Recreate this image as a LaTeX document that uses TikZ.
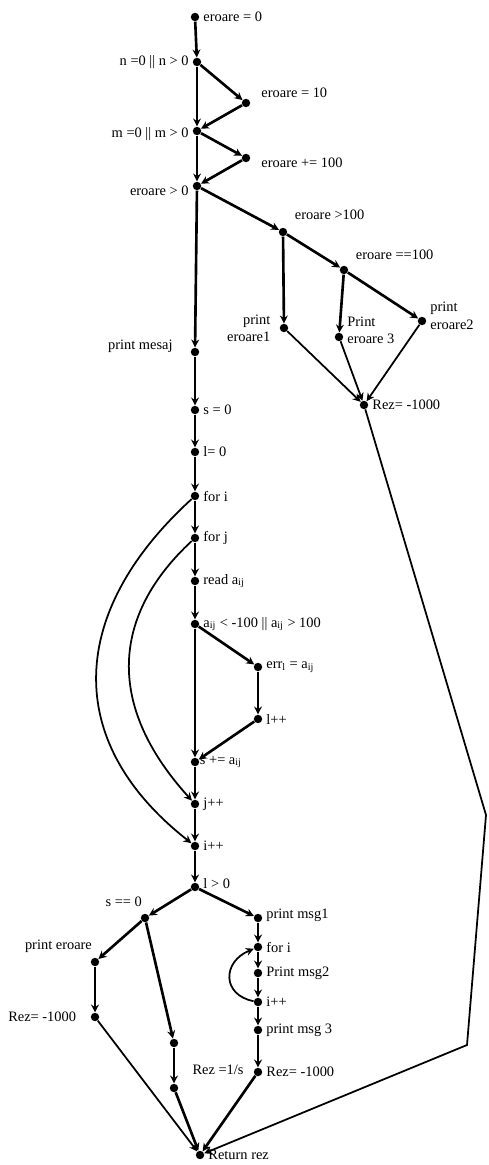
\documentclass[tikz,border=0pt]{standalone}
\usepackage{fontspec}
\setmainfont{Liberation Serif}
\usetikzlibrary{arrows.meta}
\tikzset{
    dot/.style={circle, fill, inner sep=0pt, minimum size=4.8pt},
    edge/.style={draw, line width=1.5pt, -{Stealth[length=4.5pt, width=4.5pt]}},
    thinedge/.style={draw, line width=1pt, -{Stealth[length=4.5pt, width=4.5pt]}},
    txt/.style={inner sep=1pt, font=\fontsize{8.2}{9.8}\selectfont, align=left}
}
\begin{document}
\begin{tikzpicture}[x=0.02cm, y=-0.02cm, every label/.style={txt}, label distance=1pt]
    \useasboundingbox (0,0) rectangle (488,1165);
    % Nodes: top part
    \node[dot, label=right:{eroare = 0}] (e0) at (195,17) {};
    \node[dot, label=left:{n =0 || n > 0}] (n) at (197,62) {};
    \node[dot, label={[xshift=4pt, yshift=6pt]right:eroare = 10}] (e10) at (246,103) {};
    \node[dot, label={[yshift=-1.5pt]left:m =0 || m > 0}] (m) at (197,131) {};
    \node[dot, label={[xshift=4pt, yshift=-3pt]right:eroare += 100}] (e100) at (246,158) {};
    \node[dot, label={[yshift=-3pt]left:eroare > 0}] (g0) at (197,186) {};
    \node[dot, label={[xshift=2pt, yshift=10pt]right:eroare >100}] (g100) at (283,232) {};
    \node[dot, label={[xshift=2pt, yshift=8.5pt]right:eroare ==100}] (eq100) at (344,270) {};
    \node[dot, label={[yshift=3pt]right:print\\eroare2}] (pe2) at (422,321) {};
    \node[dot, label={[txt, align=right, xshift=-3pt]left:print\\eroare1}] (pe1) at (284,328) {};
    \node[dot, label={[yshift=4pt]right:Print\\eroare 3}] (pe3) at (339,337) {};
    \node[dot, label=right:{Rez= -1000}] (rezA) at (364,405) {};
    \coordinate (bendA) at (486,815);
    \coordinate (bendB) at (467,1045);

    % Nodes: main column
    \node[dot, label={[xshift=-8pt, yshift=3pt]left:print mesaj}] (mesaj) at (195,352) {};
    \node[dot, label=right:{s = 0}] (s0) at (195,410) {};
    \node[dot, label=right:{l= 0}] (l0) at (195,452) {};
    \node[dot, label=right:{for i}] (fi) at (195,496) {};
    \node[dot, label=right:{for j}] (fj) at (195,538) {};
    \node[dot, label=right:{read a\textsubscript{ij}}] (read) at (195,581) {};
    \node[dot, label=right:{a\textsubscript{ij} < -100 || a\textsubscript{ij} > 100}] (cond) at (195,624) {};
    \node[dot, label=right:{err\textsubscript{l} = a\textsubscript{ij}}] (err) at (258,667) {};
    \node[dot, label=right:{l++}] (lpp) at (258,719) {};
    \node[dot, label={[xshift=-2pt]right:s += a\textsubscript{ij}}] (sadd) at (195,762) {};
    \node[dot, label=right:{j++}] (jpp) at (195,804) {};
    \node[dot, label=right:{i++}] (ipp) at (195,846) {};
    \node[dot, label={[yshift=2pt]right:l > 0}] (lg0) at (195,887) {};

    % Nodes: bottom part
    \node[dot, label={[xshift=3pt, yshift=9pt]left:s == 0}] (seq) at (145,918) {};
    \node[dot, label={[yshift=1.5pt]right:print msg1}] (msg1) at (258,918) {};
    \node[dot, label={[xshift=3pt, yshift=9pt]left:print eroare}] (perr) at (95,962) {};
    \node[dot, label=right:{for i}] (fi2) at (258,947) {};
    \node[dot, label=right:{Print msg2}] (msg2) at (258,973) {};
    \node[dot, label=right:{i++}] (ipp2) at (258,1002) {};
    \node[dot, label=right:{print msg 3}] (msg3) at (258,1030) {};
    \node[dot, label={[xshift=-6pt]left:Rez= -1000}] (rezL) at (95,1017) {};
    \node[dot] (rez1) at (174,1043) {};
    \node[dot] (rez2) at (174,1088) {};
    \node[txt] (rezs) at (218,1070) {Rez =1/s};
    \node[dot, label=right:{Rez= -1000}] (rezR) at (258,1072) {};
    \node[dot, label=right:{Return rez}] (ret) at (200,1155) {};

    % edges: top part
    \draw[edge] (e0) -- (n);
    \draw[edge] (n) -- (e10);
    \draw[edge] (e10) -- (m);
    \draw[edge] (n) -- (m);
    \draw[edge] (m) -- (e100);
    \draw[edge] (e100) -- (g0);
    \draw[edge] (m) -- (g0);
    \draw[edge] (g0) -- (g100);
    \draw[edge] (g0) -- (mesaj);
    \draw[edge] (g100) -- (pe1);
    \draw[edge] (g100) -- (eq100);
    \draw[edge] (eq100) -- (pe3);
    \draw[edge] (eq100) -- (pe2);
    \draw[thinedge] (pe1) -- (rezA);
    \draw[thinedge] (pe3) -- (rezA);
    \draw[thinedge] (pe2) -- (rezA);
    \draw[thinedge] (rezA) -- (bendA) -- (bendB) -- (ret);

    % edges: main column
    \draw[edge] (mesaj) -- (s0);
    \draw[edge] (s0) -- (l0);
    \draw[edge] (l0) -- (fi);
    \draw[edge] (fi) -- (fj);
    \draw[edge] (fj) -- (read);
    \draw[edge] (read) -- (cond);
    \draw[edge] (cond) -- (err);
    \draw[edge] (err) -- (lpp);
    \draw[edge] (lpp) -- (sadd);
    \draw[edge] (cond) -- (sadd);
    \draw[edge] (sadd) -- (jpp);
    \draw[edge] (jpp) -- (ipp);
    \draw[edge] (ipp) -- (lg0);
    \draw[thinedge] (fi) .. controls (70,610) and (60,740) .. (ipp);
    \draw[thinedge] (fj) .. controls (112,615) and (105,705) .. (jpp);

    % edges: bottom part
    \draw[edge] (lg0) -- (seq);
    \draw[edge] (lg0) -- (msg1);
    \draw[edge] (seq) -- (perr);
    \draw[edge] (seq) -- (rez1);
    \draw[edge] (perr) -- (rezL);
    \draw[thinedge] (rezL) -- (ret);
    \draw[edge] (rez1) -- (rez2);
    \draw[edge] (rez2) -- (ret);
    \draw[edge] (msg1) -- (fi2);
    \draw[edge] (fi2) -- (msg2);
    \draw[edge] (msg2) -- (ipp2);
    \draw[thinedge] (ipp2) .. controls (222,995) and (222,962) .. (fi2);
    \draw[edge] (ipp2) -- (msg3);
    \draw[edge] (msg3) -- (rezR);
    \draw[edge] (rezR) -- (ret);
\end{tikzpicture}
\end{document}
